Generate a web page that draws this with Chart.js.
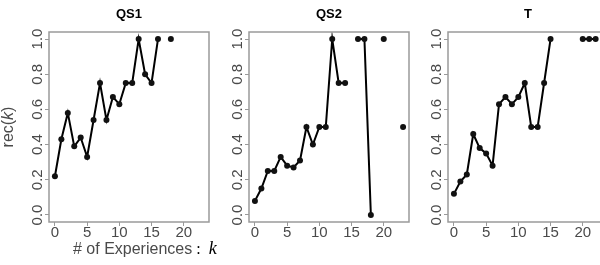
<!DOCTYPE html>
<html><head><meta charset="utf-8">
<script src="https://cdn.jsdelivr.net/npm/chart.js@4.4.1/dist/chart.umd.min.js"></script>
<style>
html,body{margin:0;padding:0;background:#fff;overflow:hidden;width:600px;height:265px;}
.p{position:absolute;top:0;height:265px;}
</style></head><body>
<div class="p" style="left:0;width:225px"><canvas id="c0" width="225" height="265"></canvas></div>
<div class="p" style="left:200px;width:215px"><canvas id="c1" width="215" height="265"></canvas></div>
<div class="p" style="left:399px;width:215px"><canvas id="c2" width="215" height="265"></canvas></div>
<script>
// ---- data ----
const kValues = [0,1,2,3,4,5,6,7,8,9,10,11,12,13,14,15,16,17,18,19,20,21,22,23];
const panelTitles = ["QS1", "QS2", "T"];
const qs1 = [0.22,0.43,0.58,0.39,0.44,0.33,0.54,0.75,0.54,0.67,0.63,0.75,0.75,1.0,0.80,0.75,1.0,null,1.0,null,null,null,null,null];
const qs2 = [0.08,0.15,0.25,0.25,0.33,0.28,0.27,0.31,0.50,0.40,0.50,0.50,1.0,0.75,0.75,null,1.0,1.0,0.0,null,1.0,null,null,0.50];
const tSeries = [0.12,0.19,0.23,0.46,0.38,0.35,0.28,0.63,0.67,0.63,0.67,0.75,0.50,0.50,0.75,1.0,null,null,null,null,1.0,1.0,1.0,null];
const xTicks = [0,5,10,15,20];
const xTickLabels = ["0","5","10","15","20"];
const yTicks = [0,0.2,0.4,0.6,0.8,1.0];
const yTickLabels = ["0.0","0.2","0.4","0.6","0.8","1.0"];
const yAxisTitle = ["rec(", "k", ")"];
const xAxisTitle = ["# of Experiences", " :  ", "k"];

const SANS = "'Liberation Sans', Arial, sans-serif";
const SERIF = "'Liberation Serif', 'Times New Roman', serif";
const GRAY = '#9a9a9a';
const LABEL = '#4a4a4a';

const boxPlugin = {
  id: 'box',
  afterDraw(chart) {
    const a = chart.chartArea, ctx = chart.ctx;
    ctx.save();
    ctx.strokeStyle = GRAY;
    ctx.lineWidth = 1.5;
    ctx.strokeRect(a.left, a.top, a.right - a.left, a.bottom - a.top);
    ctx.restore();
  }
};

const axisTitlePlugin = {
  id: 'axisTitles',
  afterDraw(chart, args, opts) {
    if (!opts.show) return;
    const a = chart.chartArea, ctx = chart.ctx;
    ctx.save();
    ctx.fillStyle = LABEL;
    ctx.textBaseline = 'middle';
    const fN = '16px ' + SANS, fI = 'italic 16px ' + SANS;
    ctx.font = fN; const w0 = ctx.measureText(yAxisTitle[0]).width, w2 = ctx.measureText(yAxisTitle[2]).width;
    ctx.font = fI; const w1 = ctx.measureText(yAxisTitle[1]).width;
    const tot = w0 + w1 + w2;
    ctx.translate(9, (a.top + a.bottom) / 2);
    ctx.rotate(-Math.PI / 2);
    ctx.textAlign = 'left';
    let x = -tot / 2;
    ctx.font = fN; ctx.fillText(yAxisTitle[0], x, 0); x += w0;
    ctx.font = fI; ctx.fillText(yAxisTitle[1], x, 0); x += w1;
    ctx.font = fN; ctx.fillText(yAxisTitle[2], x, 0);
    ctx.restore();
    ctx.save();
    ctx.textBaseline = 'alphabetic';
    ctx.textAlign = 'left';
    const g0 = '16px ' + SANS, g1 = '16px ' + SERIF, g2 = 'italic 18px ' + SERIF;
    ctx.font = g0; const v0 = ctx.measureText(xAxisTitle[0]).width;
    ctx.font = g1; const v1 = ctx.measureText(xAxisTitle[1]).width;
    let xx = a.left + 24;
    const yy = a.bottom + 32;
    ctx.fillStyle = LABEL;
    ctx.font = g0; ctx.fillText(xAxisTitle[0], xx, yy); xx += v0;
    ctx.fillStyle = '#000';
    ctx.font = g1; ctx.fillText(xAxisTitle[1], xx, yy); xx += v1;
    ctx.font = g2; ctx.fillText(xAxisTitle[2], xx, yy);
    ctx.restore();
  }
};

function makeChart(id, title, values, showTitles, padRight) {
  return new Chart(document.getElementById(id), {
    type: 'line',
    data: {
      datasets: [{
        data: values.map((v, i) => ({x: kValues[i], y: v})),
        borderColor: '#000', backgroundColor: '#000',
        borderWidth: 2, pointRadius: 3, pointBorderWidth: 0,
        pointBackgroundColor: '#111', spanGaps: false, tension: 0
      }]
    },
    options: {
      responsive: false, animation: false, devicePixelRatio: 1,
      layout: {padding: {left: 0, right: padRight, top: 0, bottom: 0}},
      plugins: {
        legend: {display: false}, tooltip: {enabled: false},
        title: {display: true, text: title, fullSize: false, color: '#000',
          font: {family: SANS, size: 13, weight: 'bold'}, padding: {top: 7, bottom: 9.4}},
        axisTitles: {show: showTitles}
      },
      scales: {
        x: {
          type: 'linear', min: -0.92, max: 23.92,
          afterBuildTicks: s => { s.ticks = xTicks.map(v => ({value: v})); },
          afterFit: s => { s.height = 43; },
          ticks: {callback: (v, i) => xTickLabels[i], font: {family: SANS, size: 15}, color: LABEL,
            padding: -2, maxRotation: 0, minRotation: 0, autoSkip: false},
          grid: {display: true, drawOnChartArea: false, drawTicks: true, tickLength: 4, color: GRAY, lineWidth: 1},
          border: {display: false}
        },
        y: {
          type: 'linear', min: -0.04, max: 1.04,
          afterBuildTicks: s => { s.ticks = yTicks.map(v => ({value: v})); },
          afterFit: s => { s.width = 49; },
          ticks: {callback: (v, i) => yTickLabels[i], font: {family: SANS, size: 15}, color: LABEL,
            minRotation: 90, maxRotation: 90, crossAlign: 'center', padding: -3, autoSkip: false},
          grid: {display: true, drawOnChartArea: false, drawTicks: true, tickLength: 4, color: GRAY, lineWidth: 1},
          border: {display: false}
        }
      }
    },
    plugins: [boxPlugin, axisTitlePlugin]
  });
}

makeChart('c0', panelTitles[0], qs1, true, 16);
makeChart('c1', panelTitles[1], qs2, false, 6);
makeChart('c2', panelTitles[2], tSeries, false, 6);
</script>
</body></html>
